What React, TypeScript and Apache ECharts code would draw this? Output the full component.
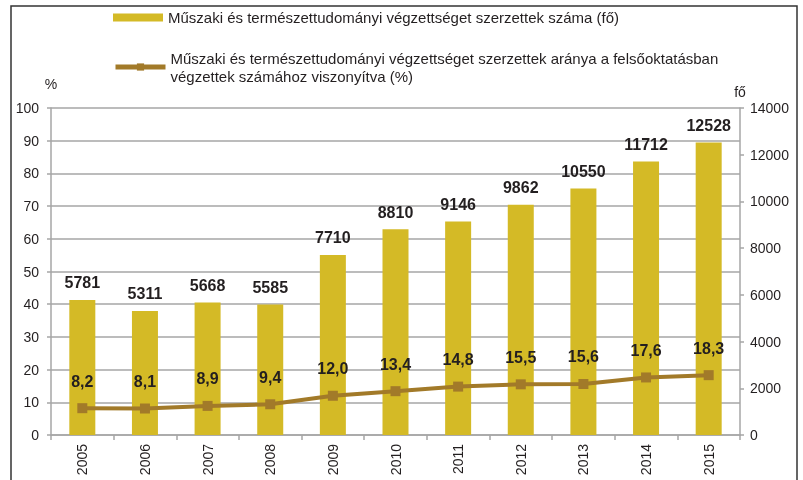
import React, { useEffect, useRef } from "react";
import * as echarts from "echarts";

const years = ["2005", "2006", "2007", "2008", "2009", "2010", "2011", "2012", "2013", "2014", "2015"];
const graduates = [5781, 5311, 5668, 5585, 7710, 8810, 9146, 9862, 10550, 11712, 12528];
const sharePct = [8.2, 8.1, 8.9, 9.4, 12.0, 13.4, 14.8, 15.5, 15.6, 17.6, 18.3];

const barName = "Műszaki és természettudományi végzettséget szerzettek száma (fő)";
const lineName =
  "Műszaki és természettudományi végzettséget szerzettek aránya a felsőoktatásban\nvégzettek számához viszonyítva (%)";

const FONT = "'Liberation Sans', Arial, sans-serif";
const TXT = "#231F20";
const GRID = "#A6A6A6";
const BAR = "#D4BA26";
const LINE = "#A27A29";

export default function App() {
  const ref = useRef<HTMLDivElement>(null);
  useEffect(() => {
    if (!ref.current) return;
    const chart = echarts.init(ref.current, undefined, { renderer: "svg" });
    chart.setOption({
      animation: false,
      textStyle: { fontFamily: FONT },
      graphic: [
        {
          type: "rect",
          shape: { x: 11, y: 6, width: 786, height: 500 },
          style: { fill: "none", stroke: "#333", lineWidth: 1.5 },
          silent: true,
        },
      ],
      legend: [
        {
          data: [barName],
          left: 108,
          top: 5,
          itemWidth: 50,
          itemHeight: 8,
          icon: "rect",
          textStyle: { fontSize: 15, color: TXT, fontFamily: FONT },
        },
        {
          data: [lineName],
          left: 108,
          top: 44,
          itemWidth: 50,
          itemHeight: 9,
          lineStyle: { width: 5 },
          textStyle: { fontSize: 15, color: TXT, fontFamily: FONT, lineHeight: 18 },
        },
      ],
      grid: { left: 51, right: 63, top: 108, bottom: 45 },
      xAxis: {
        type: "category",
        data: years,
        boundaryGap: true,
        axisLine: { lineStyle: { color: GRID, width: 1.5 } },
        axisTick: { show: true, length: 5, lineStyle: { color: GRID, width: 1.5 } },
        axisLabel: { rotate: 90, fontSize: 14, color: TXT, margin: 9, fontFamily: FONT },
      },
      yAxis: [
        {
          type: "value",
          min: 0,
          max: 100,
          interval: 10,
          name: "%",
          nameGap: 17,
          nameTextStyle: { fontSize: 14, color: TXT, fontFamily: FONT },
          axisLine: { show: true, lineStyle: { color: GRID, width: 1.5 } },
          axisTick: { show: true, length: 4, lineStyle: { color: GRID, width: 1.5 } },
          splitLine: { show: true, lineStyle: { color: GRID, width: 1.5 } },
          axisLabel: { fontSize: 14, color: TXT, margin: 12, fontFamily: FONT },
        },
        {
          type: "value",
          min: 0,
          max: 14000,
          interval: 2000,
          name: "fő",
          nameGap: 9,
          nameTextStyle: { fontSize: 14, color: TXT, fontFamily: FONT },
          position: "right",
          axisLine: { show: true, lineStyle: { color: GRID, width: 1.5 } },
          axisTick: { show: true, length: 4, lineStyle: { color: GRID, width: 1.5 } },
          splitLine: { show: false },
          axisLabel: {
            fontSize: 14,
            color: TXT,
            margin: 10,
            fontFamily: FONT,
            formatter: (v: number) => String(v),
          },
        },
      ],
      series: [
        {
          name: barName,
          type: "bar",
          yAxisIndex: 1,
          data: graduates,
          barWidth: 26,
          itemStyle: { color: BAR },
          label: {
            show: true,
            position: "top",
            distance: 9,
            fontSize: 16,
            fontWeight: "bold",
            color: TXT,
            fontFamily: FONT,
          },
          z: 2,
        },
        {
          name: lineName,
          type: "line",
          yAxisIndex: 0,
          data: sharePct,
          symbol: "rect",
          symbolSize: 10,
          lineStyle: { color: LINE, width: 4 },
          itemStyle: { color: LINE },
          label: {
            show: true,
            position: "top",
            distance: 14,
            fontSize: 16,
            fontWeight: "bold",
            color: TXT,
            fontFamily: FONT,
            formatter: (p: any) => Number(p.value).toFixed(1).replace(".", ","),
          },
          z: 3,
        },
      ],
    });
    return () => chart.dispose();
  }, []);
  return (
    <div
      ref={ref}
      style={{ position: "fixed", left: 0, top: 0, width: 803, height: 480 }}
    />
  );
}
